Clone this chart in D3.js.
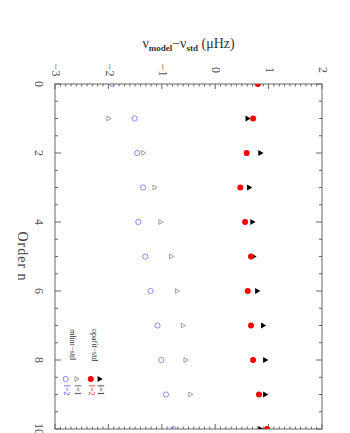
<!DOCTYPE html>
<html>
<head>
<meta charset="utf-8">
<script src="https://cdn.jsdelivr.net/npm/d3@7"></script>
<style>
  body { margin: 0; background: #fff; }
  text { font-family: "Liberation Serif", "DejaVu Serif", serif; }
</style>
</head>
<body>
<div id="chart"></div>
<script>
// Radial order of each mode
var ordersFull = [0, 1, 2, 3, 4, 5, 6, 7, 8, 9, 10];
var ordersOpaL1 = [1, 2, 3, 4, 5, 6, 7, 8, 9, 10];
var ordersMlinrL1 = [1, 2, 3, 4, 5, 6, 7, 8, 9];

// Frequency differences (microHz)
var opafitL1 = [0.60, 0.84, 0.63, 0.69, 0.71, 0.78, 0.89, 0.93, 0.93, 0.84];
var opafitL2 = [0.80, 0.71, 0.59, 0.47, 0.56, 0.67, 0.61, 0.67, 0.71, 0.82, 0.97];
var mlinrL1 = [-2.00, -1.35, -1.14, -1.03, -0.83, -0.72, -0.61, -0.56, -0.47];
var mlinrL2 = [-1.93, -1.51, -1.46, -1.35, -1.44, -1.31, -1.21, -1.08, -1.01, -0.92, -0.78];

var orderTicks = [0, 2, 4, 6, 8, 10];
var valueTicks = [-3, -2, -1, 0, 1, 2];

// Page is drawn as the original plot, then turned 90 degrees
var width = 350, height = 433;
var frameLeft = 55, frameRight = 322, frameTop = 84, frameBottom = 429;
var plotW = frameBottom - frameTop;   // along order axis
var plotH = frameRight - frameLeft;   // along value axis
var frameColor = "#666";

var svg = d3.select("#chart").append("svg")
  .attr("width", width)
  .attr("height", height);

var g = svg.append("g")
  .attr("transform", "translate(" + frameRight + "," + frameTop + ") rotate(90)");

var xScale = d3.scaleLinear().domain([0, 10]).range([0, plotW]);
var yScale = d3.scaleLinear().domain([-3, 2]).range([plotH, 0]);

// clip for the points
g.append("clipPath").attr("id", "plotClip")
  .append("rect").attr("x", 0).attr("y", 0).attr("width", plotW).attr("height", plotH);

// frame
g.append("rect")
  .attr("x", 0).attr("y", 0)
  .attr("width", plotW).attr("height", plotH)
  .attr("fill", "none")
  .attr("stroke", frameColor)
  .attr("stroke-width", 1);

// inward ticks, order axis (bottom and top of original)
var xMinor = d3.range(0, 10.01, 0.5);
xMinor.forEach(function(v) {
  var major = Math.abs(v % 2) < 1e-6;
  var len = major ? 6 : 3;
  var px = xScale(v);
  g.append("line").attr("x1", px).attr("x2", px).attr("y1", plotH).attr("y2", plotH - len)
    .attr("stroke", frameColor);
  g.append("line").attr("x1", px).attr("x2", px).attr("y1", 0).attr("y2", len)
    .attr("stroke", frameColor);
});

// inward ticks, value axis (left and right of original)
var yMinor = d3.range(-3, 2.001, 0.1);
yMinor.forEach(function(v) {
  var major = Math.abs(v - Math.round(v)) < 1e-6;
  var len = major ? 5 : 2.5;
  var py = yScale(v);
  g.append("line").attr("x1", 0).attr("x2", len).attr("y1", py).attr("y2", py)
    .attr("stroke", frameColor);
  g.append("line").attr("x1", plotW).attr("x2", plotW - len).attr("y1", py).attr("y2", py)
    .attr("stroke", frameColor);
});

// tick labels
orderTicks.forEach(function(v) {
  g.append("text")
    .attr("x", xScale(v))
    .attr("y", plotH + 17)
    .attr("text-anchor", "middle")
    .attr("dominant-baseline", "middle")
    .attr("font-size", "12px")
    .attr("fill", "#555")
    .text(v);
});
valueTicks.forEach(function(v) {
  g.append("text")
    .attr("x", -14)
    .attr("y", yScale(v))
    .attr("text-anchor", "middle")
    .attr("dominant-baseline", "middle")
    .attr("font-size", "12px")
    .attr("fill", "#555")
    .text(v < 0 ? "\u2212" + Math.abs(v) : v);
});

// axis titles
g.append("text")
  .attr("x", plotW / 2)
  .attr("y", plotH + 34)
  .attr("text-anchor", "middle")
  .attr("dominant-baseline", "middle")
  .attr("font-size", "14px")
  .attr("letter-spacing", "1px")
  .attr("fill", "#444")
  .text("Order n");

var yTitle = g.append("text")
  .attr("transform", "translate(-39," + (plotH / 2) + ") rotate(-90)")
  .attr("text-anchor", "middle")
  .attr("dominant-baseline", "middle")
  .attr("font-size", "14px")
  .attr("fill", "#333");
yTitle.append("tspan").text("\u03bd");
yTitle.append("tspan").attr("font-size", "9px").attr("font-weight", "bold").attr("dy", "4").text("model");
yTitle.append("tspan").attr("dy", "-4").text("\u2212\u03bd");
yTitle.append("tspan").attr("font-size", "9px").attr("font-weight", "bold").attr("dy", "4").text("std");
yTitle.append("tspan").attr("dy", "-4").text("  (\u03bcHz)");

// data marks
var pts = g.append("g").attr("clip-path", "url(#plotClip)");
var tri = d3.symbol().type(d3.symbolTriangle);

function drawCircles(orders, values, filled, color) {
  pts.selectAll(null).data(values).enter().append("circle")
    .attr("cx", function(d, i) { return xScale(orders[i]); })
    .attr("cy", function(d) { return yScale(d); })
    .attr("r", filled ? 3 : 2.6)
    .attr("fill", filled ? color : "none")
    .attr("stroke", color)
    .attr("stroke-width", filled ? 0 : 0.9);
}
function drawTriangles(orders, values, filled, color) {
  pts.selectAll(null).data(values).enter().append("path")
    .attr("d", tri.size(filled ? 16 : 10)())
    .attr("transform", function(d, i) {
      return "translate(" + xScale(orders[i]) + "," + yScale(d) + ")";
    })
    .attr("fill", filled ? color : "none")
    .attr("stroke", color)
    .attr("stroke-width", filled ? 0 : 0.8);
}

drawTriangles(ordersMlinrL1, mlinrL1, false, "#888");
drawCircles(ordersFull, mlinrL2, false, "#7a7aff");
drawTriangles(ordersOpaL1, opafitL1, true, "#000");
drawCircles(ordersFull, opafitL2, true, "#ff0000");

// legend
var legN = 8.55, legTextN = 8.72, legLabelN = 7.1;
var legend = [
  { name: "opafit\u2212std", v: -2.28, items: [
    { v: -2.17, shape: "tri", filled: true, color: "#000", label: "l=1", labelColor: "#222" },
    { v: -2.33, shape: "circ", filled: true, color: "#ff0000", label: "l=2", labelColor: "#ff3030" }
  ]},
  { name: "mlinr\u2212std", v: -2.69, items: [
    { v: -2.60, shape: "tri", filled: false, color: "#888", label: "l=1", labelColor: "#444" },
    { v: -2.80, shape: "circ", filled: false, color: "#7a7aff", label: "l=2", labelColor: "#5a5aff" }
  ]}
];
legend.forEach(function(grp) {
  g.append("text")
    .attr("x", xScale(legLabelN))
    .attr("y", yScale(grp.v))
    .attr("dominant-baseline", "middle")
    .attr("font-size", "8px")
    .attr("fill", "#333")
    .text(grp.name);
  grp.items.forEach(function(it) {
    if (it.shape === "tri") {
      g.append("path")
        .attr("d", tri.size(it.filled ? 16 : 10)())
        .attr("transform", "translate(" + xScale(legN) + "," + yScale(it.v) + ")")
        .attr("fill", it.filled ? it.color : "none")
        .attr("stroke", it.color)
        .attr("stroke-width", it.filled ? 0 : 0.8);
    } else {
      g.append("circle")
        .attr("cx", xScale(legN)).attr("cy", yScale(it.v))
        .attr("r", it.filled ? 3 : 2.6)
        .attr("fill", it.filled ? it.color : "none")
        .attr("stroke", it.color)
        .attr("stroke-width", it.filled ? 0 : 0.9);
    }
    g.append("text")
      .attr("x", xScale(legTextN))
      .attr("y", yScale(it.v))
      .attr("dominant-baseline", "middle")
      .attr("font-size", "8px")
      .attr("fill", it.labelColor)
      .text(it.label);
  });
});
</script>
</body>
</html>
